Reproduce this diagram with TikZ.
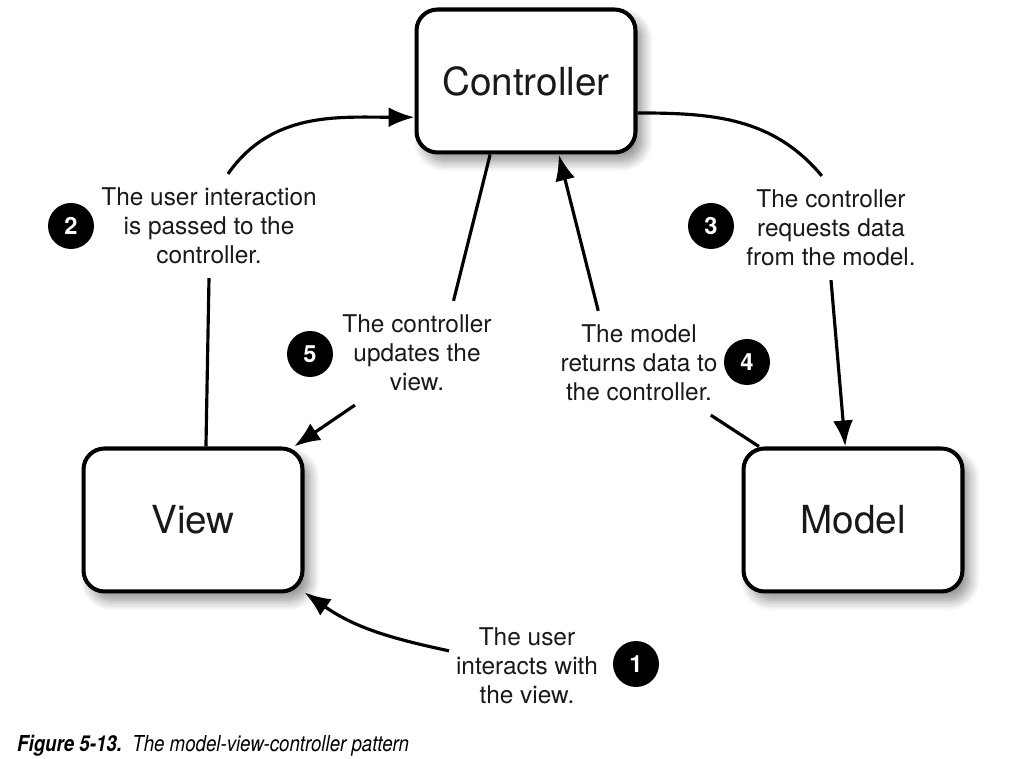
\documentclass[tikz,border=0pt]{standalone}
\usepackage{fontspec}
\setmainfont{TeX Gyre Heros}
\usetikzlibrary{arrows.meta, shadows.blur}

\begin{document}
\begin{tikzpicture}[
    x=0.02cm, y=-0.02cm,
    box/.style={draw, line width=2.3pt, rounded corners=0.42cm, minimum width=4.38cm, minimum height=2.86cm, fill=white, font=\fontsize{22}{26}\selectfont, text=black!90,
        blur shadow={shadow xshift=4pt, shadow yshift=-5pt, shadow blur steps=14, shadow blur radius=6pt, shadow opacity=45}},
    note/.style={align=center, font=\fontsize{13.9}{16.5}\selectfont, inner sep=2pt, outer xsep=2pt, outer ysep=6pt, text=black!90},
    badge/.style={circle, fill=black, text=white, minimum size=0.92cm, inner sep=0pt, font=\fontsize{13.5}{13.5}\selectfont\bfseries},
    line/.style={line width=1.8pt},
    arrow/.style={line, -{Latex[length=0.52cm, width=0.4cm]}}
]
\useasboundingbox (0,0) rectangle (1009,759);

% Boxes
\node[box] (controller) at (526,81) {Controller};
\node[box] (view) at (193,520) {View};
\node[box] (model) at (853,520) {Model};

% Step texts
\node[note] (lab2) at (209,226) {The user interaction\\is passed to the\\controller.};
\node[note] (lab3) at (831,228) {The controller\\requests data\\from the model.};
\node[note] (lab5) at (417,353) {The controller\\updates the\\view.};
\node[note] (lab4) at (639,363) {The model\\returns data to\\the controller.};
\node[note] (lab1) at (527,666) {The user\\interacts with\\the view.};

% Step numbers
\node[badge] (num2) at (71,226) {2};
\node[badge] (num3) at (711,226) {3};
\node[badge] (num5) at (310,354) {5};
\node[badge] (num4) at (747,362) {4};
\node[badge] (num1) at (636,664) {1};

% Connectors
\draw[arrow] (lab1.169) to[out=168, in=-35] (view.-33);
\draw[line] (view.80) -- (lab2.south);
\draw[arrow] (lab2.70) to[out=55, in=180] (controller.198);
\draw[line] (controller.-16) to[out=0, in=130] (lab3.100);
\draw[arrow] (lab3.south) -- (model.96);
\draw[line] (model.142) -- (lab4.-36);
\draw[arrow] (lab4.128) -- (controller.294);
\draw[line] (controller.244) -- (lab5.55);
\draw[arrow] (lab5.220) -- (view.36);

% Caption
\node[anchor=base west, font=\fontsize{12.5}{14}\selectfont\itshape] (caption) at (11,752) {\scalebox{0.85}[1]{\textbf{Figure 5-13.}\ \ The model-view-controller pattern}};
\end{tikzpicture}
\end{document}
